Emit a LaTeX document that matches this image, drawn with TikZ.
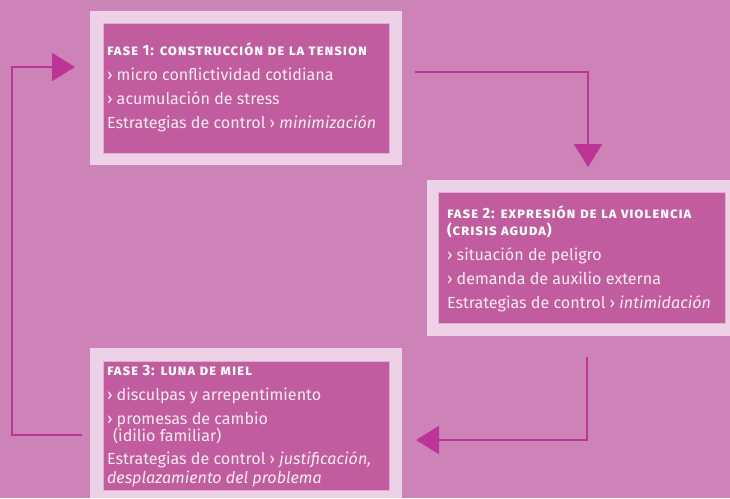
\documentclass[tikz,border=0pt]{standalone}
\usepackage{fontspec}
\setmainfont{Fira Sans}
\usetikzlibrary{arrows.meta}
\definecolor{bgc}{HTML}{CD83B8}
\definecolor{lightc}{HTML}{EDD1E7}
\definecolor{innerc}{HTML}{C15D9F}
\definecolor{arrowc}{HTML}{BC3495}
\definecolor{txtc}{HTML}{F8EAF3}
\tikzset{
  outerbox/.style={fill=lightc, draw=none, inner sep=0pt, outer sep=0pt, anchor=north west},
  innerbox/.style={fill=innerc, draw=lightc!70!innerc, line width=0.6pt, inner sep=0pt, outer sep=0pt, anchor=north west},
  txt/.style={anchor=base west, inner sep=0pt, outer sep=0pt, text=txtc, font=\fontsize{16.1}{18}\selectfont},
  head/.style={anchor=base west, inner sep=0pt, outer sep=0pt, text=white, font=\fontsize{14.8}{16}\selectfont\bfseries\addfontfeatures{Letters=SmallCaps,LetterSpace=6}},
  conn/.style={draw=arrowc, line width=2pt, -{Triangle[length=23pt,width=28pt]}}
}
\begin{document}
\begin{tikzpicture}[x=1pt,y=-1pt]
\fill[bgc] (0,0) rectangle (730,498);
\useasboundingbox (0,0) rectangle (730,498);
% boxes
\node[outerbox, minimum width=312pt, minimum height=154pt] (o1) at (90,11) {};
\node[innerbox, minimum width=286pt, minimum height=130pt] (i1) at (103,23) {};
\node[outerbox, minimum width=303pt, minimum height=156pt] (o2) at (427,180) {};
\node[innerbox, minimum width=287pt, minimum height=131pt] (i2) at (438,192) {};
\node[outerbox, minimum width=312pt, minimum height=150pt] (o3) at (90,348) {};
\node[innerbox, minimum width=286pt, minimum height=129pt] (i3) at (103,361) {};
% box 1 text
\node[head] (h1) at (107,55) {fase 1: construcción de la tension};
\node[txt] (t11) at (107,80) {› micro conflictividad cotidiana};
\node[txt] (t12) at (107,104) {› acumulación de stress};
\node[txt] (t13) at (107,128) {Estrategias de control › \textit{minimización}};
% box 2 text
\node[head] (h2a) at (447,218) {fase 2: expresión de la violencia};
\node[head] (h2b) at (447,235) {(crisis aguda)};
\node[txt] (t21) at (447,260) {› situación de peligro};
\node[txt] (t22) at (447,284) {› demanda de auxilio externa};
\node[txt] (t23) at (447,308) {Estrategias de control › \textit{intimidación}};
% box 3 text
\node[head] (h3) at (107,375) {fase 3: luna de miel};
\node[txt] (t31) at (107,400) {› disculpas y arrepentimiento};
\node[txt] (t32) at (107,424) {› promesas de cambio};
\node[txt] (t32b) at (113,441) {(idilio familiar)};
\node[txt] (t33) at (107,464) {Estrategias de control › \textit{justificación,}};
\node[txt] (t33b) at (107,483) {\textit{desplazamiento del problema}};
% connectors
\coordinate (a1s) at (82,435);
\coordinate (a1m) at (12,435);
\coordinate (a1e) at (75,67);
\draw[conn] (a1s) -- (a1m) |- (a1e);
\coordinate (a2s) at (415,72);
\coordinate (a2e) at (588,167);
\draw[conn] (a2s) -| (a2e);
\coordinate (a3s) at (587,357);
\coordinate (a3e) at (416,440);
\draw[conn] (a3s) |- (a3e);
\end{tikzpicture}
\end{document}
